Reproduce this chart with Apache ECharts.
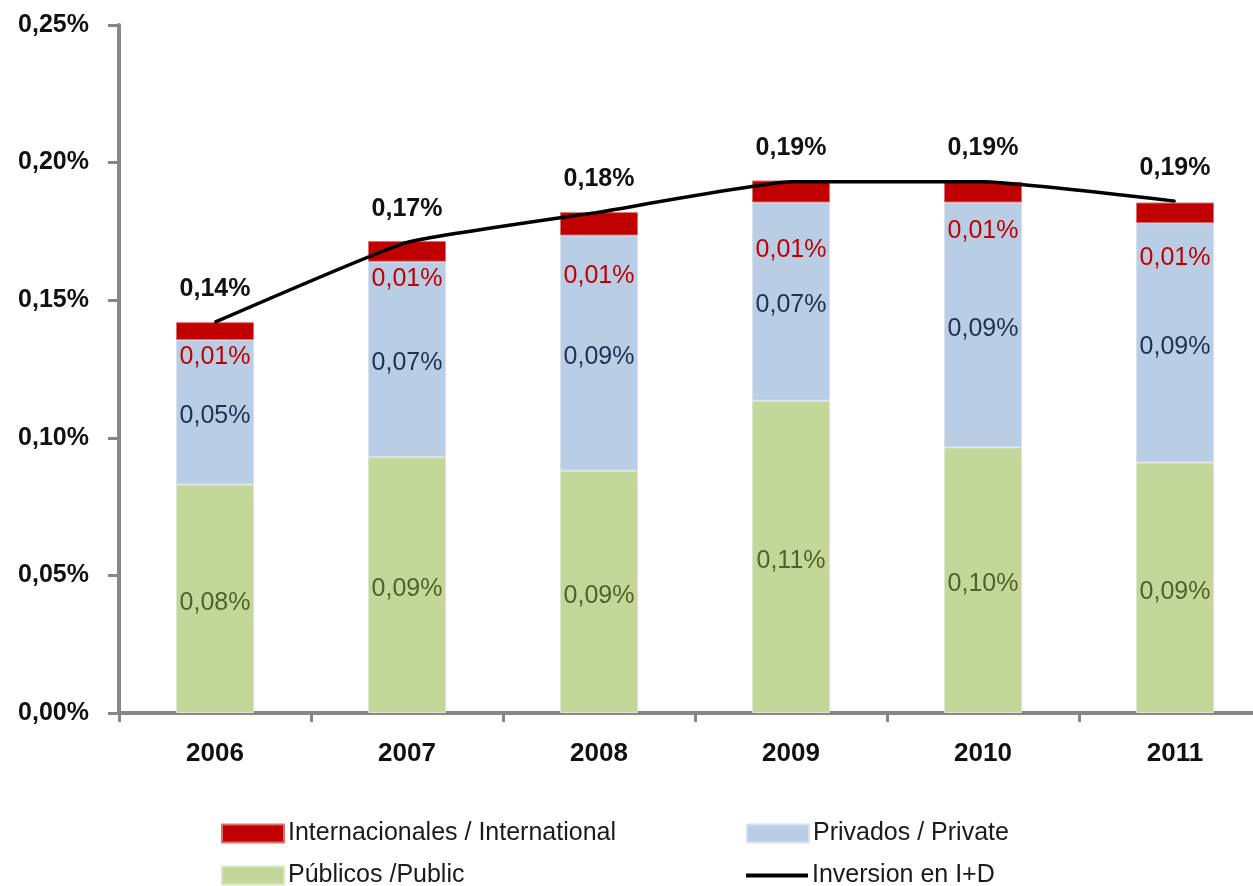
<!DOCTYPE html>
<html>
<head>
<meta charset="utf-8">
<script src="https://cdn.jsdelivr.net/npm/echarts@6/dist/echarts.min.js"></script>
<style>html,body{margin:0;padding:0;background:#fff;overflow:hidden;}#c{width:1271px;height:886px;}</style>
</head>
<body>
<div id="c"></div>
<script>
var years = ['2006', '2007', '2008', '2009', '2010', '2011'];
var publicos = [0.083, 0.093, 0.088, 0.1135, 0.0965, 0.091];
var privados = [0.0525, 0.071, 0.0855, 0.072, 0.089, 0.087];
var internacionales = [0.0065, 0.0075, 0.0085, 0.008, 0.0075, 0.0075];
var inversion = [0.142, 0.171, 0.182, 0.193, 0.193, 0.186];

// extra downward shift of the international labels (px), as placed in the original
var intLabelShift = [0, 0, 23, 30, 11, 17];

function fmt(v) { return (Math.round(v * 100) / 100).toFixed(2).replace('.', ',') + '%'; }
var FONT = 'Liberation Sans, Arial, sans-serif';

var chart = echarts.init(document.getElementById('c'));
var legendBase = { orient: 'horizontal', itemWidth: 62, itemHeight: 18, itemGap: 4, icon: 'rect',
  textStyle: { fontFamily: FONT, fontSize: 25, color: '#1a1a1a', padding: [0, 0, 0, -1] } };
function lg(name, left, top, extra) {
  return Object.assign({}, legendBase, { data: [name], left: left, top: top, selectedMode: false }, extra || {});
}
var intData = internacionales.map(function (v, i) {
  return { value: v, label: { offset: [0, intLabelShift[i]] } };
});
chart.setOption({
  animation: false,
  grid: { left: 119, right: 0, top: 25, bottom: 173, containLabel: false },
  xAxis: {
    type: 'category', data: years,
    axisLine: { lineStyle: { color: '#878787', width: 4 } },
    axisTick: { show: true, length: 9, lineStyle: { color: '#878787', width: 3 } },
    axisLabel: { fontFamily: FONT, fontSize: 26, fontWeight: 'bold', color: '#111', margin: 28 }
  },
  yAxis: {
    type: 'value', min: 0, max: 0.25, interval: 0.05,
    axisLine: { show: true, lineStyle: { color: '#878787', width: 4 } },
    axisTick: { show: true, length: 11, lineStyle: { color: '#878787', width: 3 } },
    splitLine: { show: false },
    axisLabel: { fontFamily: FONT, fontSize: 25, fontWeight: 'bold', color: '#111', margin: 30,
      formatter: function (v) { return fmt(v); } }
  },
  legend: [
    lg('Internacionales / International', 216, 816),
    lg('Privados / Private', 741, 816),
    lg('Públicos /Public', 216, 858),
    lg('Inversion en I+D', 741, 858, { itemHeight: 4 })
  ],
  series: [
    { name: 'Públicos /Public', type: 'bar', stack: 't', data: publicos, barWidth: 78,
      itemStyle: { color: '#C4D79B', borderColor: '#DCE8C4', borderWidth: 1 },
      label: { show: true, position: 'inside', offset: [0, 4], formatter: function (p) { return fmt(p.value); },
        fontFamily: FONT, fontSize: 25, color: '#4F6228' } },
    { name: 'Privados / Private', type: 'bar', stack: 't', data: privados, barWidth: 78,
      itemStyle: { color: '#B9CDE5', borderColor: '#D5E1F0', borderWidth: 1 },
      label: { show: true, position: 'inside', offset: [0, 4], formatter: function (p) { return fmt(p.value); },
        fontFamily: FONT, fontSize: 25, color: '#1F3050' } },
    { name: 'Internacionales / International', type: 'bar', stack: 't', data: intData, barWidth: 78,
      itemStyle: { color: '#C00000', borderColor: '#DD6E6E', borderWidth: 1 },
      label: { show: true, position: 'bottom', distance: 5, formatter: function (p) { return fmt(p.value); },
        fontFamily: FONT, fontSize: 25, color: '#C00000' } },
    { name: 'Inversion en I+D', type: 'line', data: inversion, symbol: 'circle', symbolSize: 2,
      showSymbol: true, smooth: 0.12, z: 5,
      lineStyle: { color: '#000', width: 3.5 }, itemStyle: { color: '#000' },
      label: { show: true, position: 'top', distance: 20, formatter: function (p) { return fmt(p.value); },
        fontFamily: FONT, fontSize: 25, fontWeight: 'bold', color: '#111' } }
  ]
});
</script>
</body>
</html>
